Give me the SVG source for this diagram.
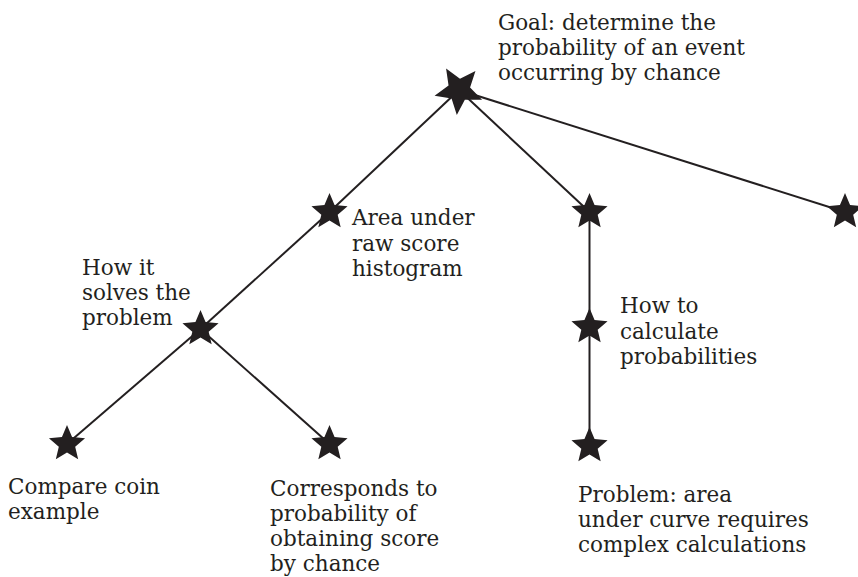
<svg xmlns="http://www.w3.org/2000/svg" xmlns:xlink="http://www.w3.org/1999/xlink" width="858" height="577" viewBox="0 0 858 577">
<style>
.lbl{font-family:"DejaVu Serif","Liberation Serif",serif;font-size:21.5px;fill:#231f20}
.conn line{stroke:#231f20;stroke-width:2;fill:none}
.star{fill:#231f20}
</style>
<defs>
<path id="star" d="M0,-19 L5.05,-6.96 L18.07,-5.87 L8.18,2.66 L11.17,15.37 L0,8.6 L-11.17,15.37 L-8.18,2.66 L-18.07,-5.87 L-5.05,-6.96 Z"/>
</defs>
<rect width="858" height="577" fill="#ffffff"/>
<g id="connectors" class="conn">
<line x1="459" y1="90" x2="329.5" y2="212"/>
<line x1="459" y1="90" x2="589.5" y2="212"/>
<line x1="459" y1="90" x2="845" y2="212"/>
<line x1="329.5" y1="212" x2="200.5" y2="329"/>
<line x1="200.5" y1="329" x2="67" y2="444"/>
<line x1="200.5" y1="329" x2="329.5" y2="444"/>
<line x1="589.5" y1="212" x2="589.5" y2="327"/>
<line x1="589.5" y1="327" x2="589.5" y2="446"/>
</g>
<g id="goal">
<use xlink:href="#star" class="star" transform="translate(459,90) rotate(185) scale(1.32)"/>
<text class="lbl" x="498" y="30">Goal: determine the</text>
<text class="lbl" x="498" y="55">probability of an event</text>
<text class="lbl" x="498" y="80">occurring by chance</text>
</g>
<g id="area">
<use xlink:href="#star" class="star" x="329.5" y="212"/>
<text class="lbl" x="352" y="225">Area under</text>
<text class="lbl" x="352" y="250.5">raw score</text>
<text class="lbl" x="352" y="276">histogram</text>
</g>
<g id="mid">
<use xlink:href="#star" class="star" x="589.5" y="212"/>
</g>
<g id="right">
<use xlink:href="#star" class="star" x="845" y="212"/>
</g>
<g id="solves">
<use xlink:href="#star" class="star" x="200.5" y="329"/>
<text class="lbl" x="82" y="275">How it</text>
<text class="lbl" x="82" y="300">solves the</text>
<text class="lbl" x="82" y="325">problem</text>
</g>
<g id="howto">
<use xlink:href="#star" class="star" x="589.5" y="327"/>
<text class="lbl" x="620" y="313">How to</text>
<text class="lbl" x="620" y="339">calculate</text>
<text class="lbl" x="620" y="364">probabilities</text>
</g>
<g id="coin">
<use xlink:href="#star" class="star" x="67" y="444"/>
<text class="lbl" x="8" y="494">Compare coin</text>
<text class="lbl" x="8" y="519">example</text>
</g>
<g id="corresponds">
<use xlink:href="#star" class="star" x="329.5" y="444"/>
<text class="lbl" x="270" y="496">Corresponds to</text>
<text class="lbl" x="270" y="521">probability of</text>
<text class="lbl" x="270" y="546">obtaining score</text>
<text class="lbl" x="270" y="571">by chance</text>
</g>
<g id="problem">
<use xlink:href="#star" class="star" x="589.5" y="446"/>
<text class="lbl" x="578" y="501.5">Problem: area</text>
<text class="lbl" x="578" y="526.5">under curve requires</text>
<text class="lbl" x="578" y="551.5">complex calculations</text>
</g>
</svg>
